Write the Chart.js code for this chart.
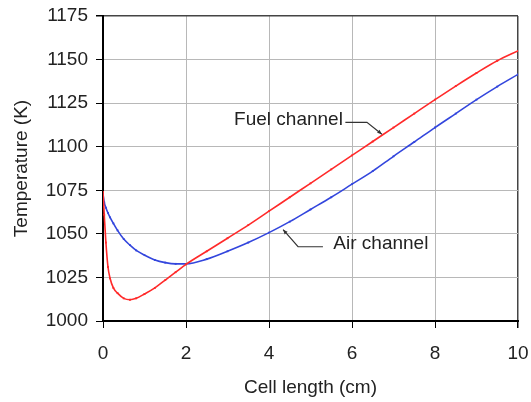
<!DOCTYPE html>
<html><head><meta charset="utf-8">
<script src="https://cdn.jsdelivr.net/npm/chart.js@4"></script>
<style>html,body{margin:0;padding:0;background:#fff}#wrap{width:531px;height:402px;position:relative}</style>
</head><body><div id="wrap"><canvas id="c" width="531" height="402"></canvas></div>
<script>
// ---- data ----
const cellLength = [0, 0.03, 0.07, 0.12, 0.17, 0.25, 0.35, 0.5, 0.65, 0.8, 1.0, 1.25, 1.5, 1.75, 2.0, 2.5, 3, 3.5, 4, 4.5, 5, 5.5, 6, 6.5, 7, 7.5, 8, 8.5, 9, 9.5, 10];
const fuelTemp = [1074, 1061, 1045, 1031, 1024.5, 1019, 1016, 1013, 1012.2, 1013, 1015.5, 1019, 1023.5, 1028, 1032.5, 1040, 1047.5, 1055, 1063, 1071, 1079, 1087, 1095, 1103, 1111, 1119, 1127, 1134.8, 1142.3, 1149.3, 1155];
const airTemp = [1073, 1068, 1065, 1062, 1059.5, 1056, 1052, 1047, 1043.5, 1040.5, 1037.8, 1035, 1033.5, 1032.8, 1032.8, 1035.5, 1040, 1045, 1050.7, 1057, 1064, 1071, 1078.5, 1086, 1094.5, 1102.7, 1111, 1119, 1127, 1134.5, 1141.5];
const xTickValues = [0, 2, 4, 6, 8, 10];
const yTickValues = [1000, 1025, 1050, 1075, 1100, 1125, 1150, 1175];
const seriesNames = ['Fuel channel', 'Air channel'];
const xTitle = 'Cell length (cm)';
const yTitle = 'Temperature (K)';

const FONT = '"Liberation Sans", Arial, Helvetica, sans-serif';
Chart.defaults.font.family = FONT;

const toPts = (xs, ys) => xs.map((x, i) => ({x: x, y: ys[i]}));

// callout labels with leader lines, positioned in data units
const calloutPlugin = {
  id: 'callouts',
  afterDatasetsDraw(chart) {
    const {ctx, scales: {x, y}} = chart;
    const px = v => x.getPixelForValue(v), py = v => y.getPixelForValue(v);
    ctx.save();
    ctx.font = '19px ' + FONT;
    ctx.fillStyle = '#222';
    ctx.textBaseline = 'middle';
    ctx.textAlign = 'right';
    ctx.fillText(seriesNames[0], px(5.78), py(1115.3));
    ctx.textAlign = 'left';
    ctx.fillText(seriesNames[1], px(5.55), py(1044.3));
    ctx.strokeStyle = '#333';
    ctx.lineWidth = 1.2;
    const leader = (pts) => {
      ctx.beginPath();
      ctx.moveTo(px(pts[0][0]), py(pts[0][1]));
      for (let i = 1; i < pts.length; i++) ctx.lineTo(px(pts[i][0]), py(pts[i][1]));
      ctx.stroke();
      const a = pts[pts.length - 2], b = pts[pts.length - 1];
      const bx = px(b[0]), by = py(b[1]), ax = px(a[0]), ay = py(a[1]);
      const ang = Math.atan2(by - ay, bx - ax);
      ctx.beginPath();
      ctx.moveTo(bx, by);
      ctx.lineTo(bx - 5 * Math.cos(ang - 0.4), by - 5 * Math.sin(ang - 0.4));
      ctx.lineTo(bx - 5 * Math.cos(ang + 0.4), by - 5 * Math.sin(ang + 0.4));
      ctx.closePath();
      ctx.fillStyle = '#333';
      ctx.fill();
    };
    leader([[5.84, 1114.0], [6.36, 1114.0], [6.72, 1107.2]]);
    leader([[5.30, 1042.6], [4.70, 1042.6], [4.34, 1052.4]]);
    ctx.restore();
  }
};

const axisGrid = (lastVal) => ({
  color: c => (c.tick && c.tick.value === lastVal) ? '#444' : '#b8b8b8',
  lineWidth: c => (c.tick && c.tick.value === lastVal) ? 1.5 : 1,
  tickColor: '#000',
  tickLength: 7,
  drawTicks: true
});

new Chart(document.getElementById('c'), {
  type: 'scatter',
  data: {
    datasets: [
      {
        label: seriesNames[0],
        data: toPts(cellLength, fuelTemp),
        showLine: true,
        borderColor: '#ff2a2a',
        backgroundColor: '#ff2a2a',
        borderWidth: 1.6,
        pointRadius: 1.3,
        pointBorderWidth: 0,
        pointStyle: 'rect',
        cubicInterpolationMode: 'monotone'
      },
      {
        label: seriesNames[1],
        data: toPts(cellLength, airTemp),
        showLine: true,
        borderColor: '#3346dd',
        backgroundColor: '#3346dd',
        borderWidth: 1.6,
        pointRadius: 1.3,
        pointBorderWidth: 0,
        pointStyle: 'rect',
        cubicInterpolationMode: 'monotone'
      }
    ]
  },
  options: {
    responsive: false,
    devicePixelRatio: 1,
    animation: false,
    layout: {padding: {left: 0, right: 13, top: 16, bottom: 0}},
    plugins: {legend: {display: false}, tooltip: {enabled: false}},
    scales: {
      x: {
        type: 'linear',
        min: 0, max: 10,
        afterBuildTicks: s => { s.ticks = xTickValues.map(v => ({value: v})); },
        ticks: {font: {size: 19}, color: '#222', padding: 14, maxRotation: 0, callback: v => String(v)},
        grid: axisGrid(10),
        border: {display: true, color: '#000', width: 2},
        title: {display: true, text: xTitle, font: {size: 19}, color: '#222', padding: {top: 0, bottom: 3}},
        afterFit: s => { s.height = 81; s.paddingLeft = 0; s.paddingRight = 0; }
      },
      y: {
        type: 'linear',
        min: 1000, max: 1175,
        afterBuildTicks: s => { s.ticks = yTickValues.map(v => ({value: v})); },
        ticks: {font: {size: 19}, color: '#222', padding: 8, callback: v => String(v)},
        grid: axisGrid(1175),
        border: {display: true, color: '#000', width: 2},
        title: {display: true, text: yTitle, font: {size: 19}, color: '#222', padding: {top: 10, bottom: 0}},
        afterFit: s => { s.width = 103; s.paddingTop = 0; s.paddingBottom = 0; }
      }
    }
  },
  plugins: [calloutPlugin]
});
</script>
</body></html>
